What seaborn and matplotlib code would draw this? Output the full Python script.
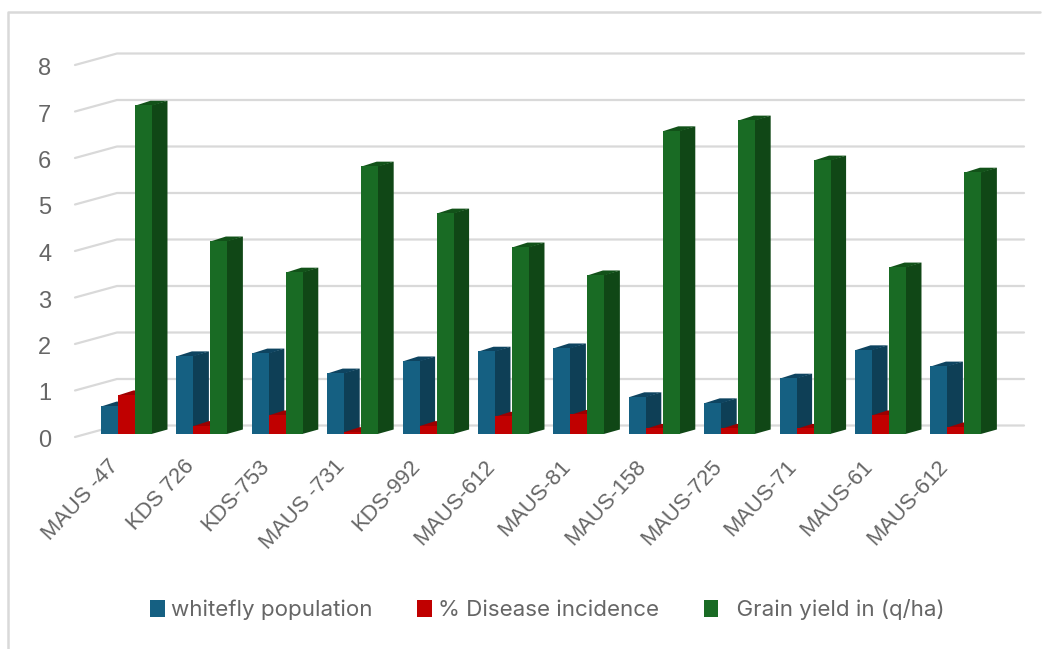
import numpy as np
import pandas as pd
import matplotlib
matplotlib.use('Agg')
import matplotlib.pyplot as plt
from matplotlib.lines import Line2D
from matplotlib.patches import Polygon
from matplotlib.transforms import ScaledTranslation
import seaborn as sns

# ---------- data ----------
varieties = ['MAUS -47', 'KDS 726', 'KDS-753', 'MAUS -731', 'KDS-992', 'MAUS-612',
             'MAUS-81', 'MAUS-158', 'MAUS-725', 'MAUS-71', 'MAUS-61', 'MAUS-612']
whitefly = [0.60, 1.68, 1.74, 1.31, 1.57, 1.78, 1.85, 0.80, 0.67, 1.20, 1.81, 1.46]
disease = [0.84, 0.18, 0.41, 0.05, 0.18, 0.38, 0.42, 0.12, 0.12, 0.12, 0.41, 0.15]
grain = [7.07, 4.15, 3.48, 5.76, 4.75, 4.02, 3.42, 6.52, 6.75, 5.89, 3.59, 5.63]
series_names = ['whitefly population', '% Disease incidence', '  Grain yield in (q/ha)']
y_ticks = [0, 1, 2, 3, 4, 5, 6, 7, 8]

front_colors = ['#156082', '#c00000', '#196b24']
side_colors = ['#0e3f56', '#a00000', '#104716']
top_colors = ['#0e4460', '#9c0000', '#125219']
grid_color = '#d9d9d9'
text_color = '#666666'

W, H = 1059, 649
# pixels per category / per unit, measured on the picture
px_x = 75.4
px_y = 46.5
ax_left = 88.8
ax_base = 434
depth_x = 15.5 / px_x
depth_y = 4.5 / px_y
seam = 0.6 / px_x


def to_x(px):
    return (px - ax_left) / px_x - 0.5


def to_y(px):
    return (ax_base - px) / px_y


df = pd.DataFrame({
    'idx': np.tile(np.arange(len(varieties)), 3),
    'value': whitefly + disease + grain,
    'series': np.repeat(series_names, len(varieties)),
})

sns.set_style('white')
plt.rcParams['font.family'] = ['Liberation Sans', 'DejaVu Sans']

fig = plt.figure(figsize=(W / 100, H / 100), dpi=100)
ax = fig.add_axes([ax_left / W, 1 - ax_base / H, px_x * 12 / W, px_y * 8 / H])
ax.patch.set_alpha(0)

sns.barplot(data=df, x='idx', y='value', hue='series', hue_order=series_names,
            palette=front_colors, saturation=1, width=0.676, gap=0, dodge=True,
            linewidth=0, ax=ax)

# ---------- fake 3D faces on each bar ----------
for i, bars in enumerate(ax.containers):
    for bar in bars:
        x0 = bar.get_x()
        w = bar.get_width()
        h = bar.get_height()
        bar.set_zorder(3 + 2 * i)
        # side starts a bit under the front face so no white seam shows
        side = [(x0 + w - seam, 0), (x0 + w + depth_x, depth_y),
                (x0 + w + depth_x, h + depth_y), (x0 + w - seam, h)]
        top = [(x0, h - 0.01), (x0 + depth_x, h + depth_y),
               (x0 + w + depth_x, h + depth_y), (x0 + w, h - 0.01)]
        ax.add_patch(Polygon(side, closed=True, fc=side_colors[i], ec='none',
                             zorder=2 + 2 * i, clip_on=False))
        ax.add_patch(Polygon(top, closed=True, fc=top_colors[i], ec='none',
                             zorder=2 + 2 * i, clip_on=False))

# ---------- grid: floor edge then back wall ----------
for v in y_ticks:
    front_y = v - 3 / px_y
    back_y = v + 8.5 / px_y
    ax.plot([to_x(75), to_x(117), to_x(1024)], [front_y, back_y, back_y],
            color=grid_color, lw=1.6, zorder=1, clip_on=False, solid_joinstyle='miter')

ax.set_xlim(-0.5, len(varieties) - 0.5)
ax.set_ylim(0, 8)
ax.set_xlabel('')
ax.set_ylabel('')
ax.set_yticks(y_ticks)
ax.set_xticks(range(len(varieties)))
ax.set_xticklabels(varieties, rotation=47, ha='right', va='top', rotation_mode='anchor',
                   fontsize=15.8, color=text_color)
ax.tick_params(axis='x', length=0, pad=16)
ax.tick_params(axis='y', length=0, pad=27, labelsize=17, labelcolor=text_color)
sns.despine(ax=ax, left=True, bottom=True)

# labels sit away from their ticks in the original
shift_x = ScaledTranslation(-19 / 100, 0, fig.dpi_scale_trans)
for label in ax.get_xticklabels():
    label.set_transform(label.get_transform() + shift_x)
shift_y = ScaledTranslation(0, -4.5 / 100, fig.dpi_scale_trans)
for label in ax.get_yticklabels():
    label.set_transform(label.get_transform() + shift_y)

sns.move_legend(ax, 'center left', bbox_to_anchor=((150 - ax_left) / (px_x * 12), to_y(610) / 8),
                ncol=3, frameon=False, title=None, handlelength=0.66,
                handleheight=0.78, handletextpad=0.27, columnspacing=2.0, borderaxespad=0,
                borderpad=0, labelcolor=text_color, prop={'family': 'Inter', 'size': 16.1})

# chart border, cut by the picture edges
fig.add_artist(Line2D([8 / W, 8 / W, 1040 / W], [0, 1 - 12 / H, 1 - 12 / H],
                      color=grid_color, lw=1.8))

fig.savefig('out.png', dpi=100)
